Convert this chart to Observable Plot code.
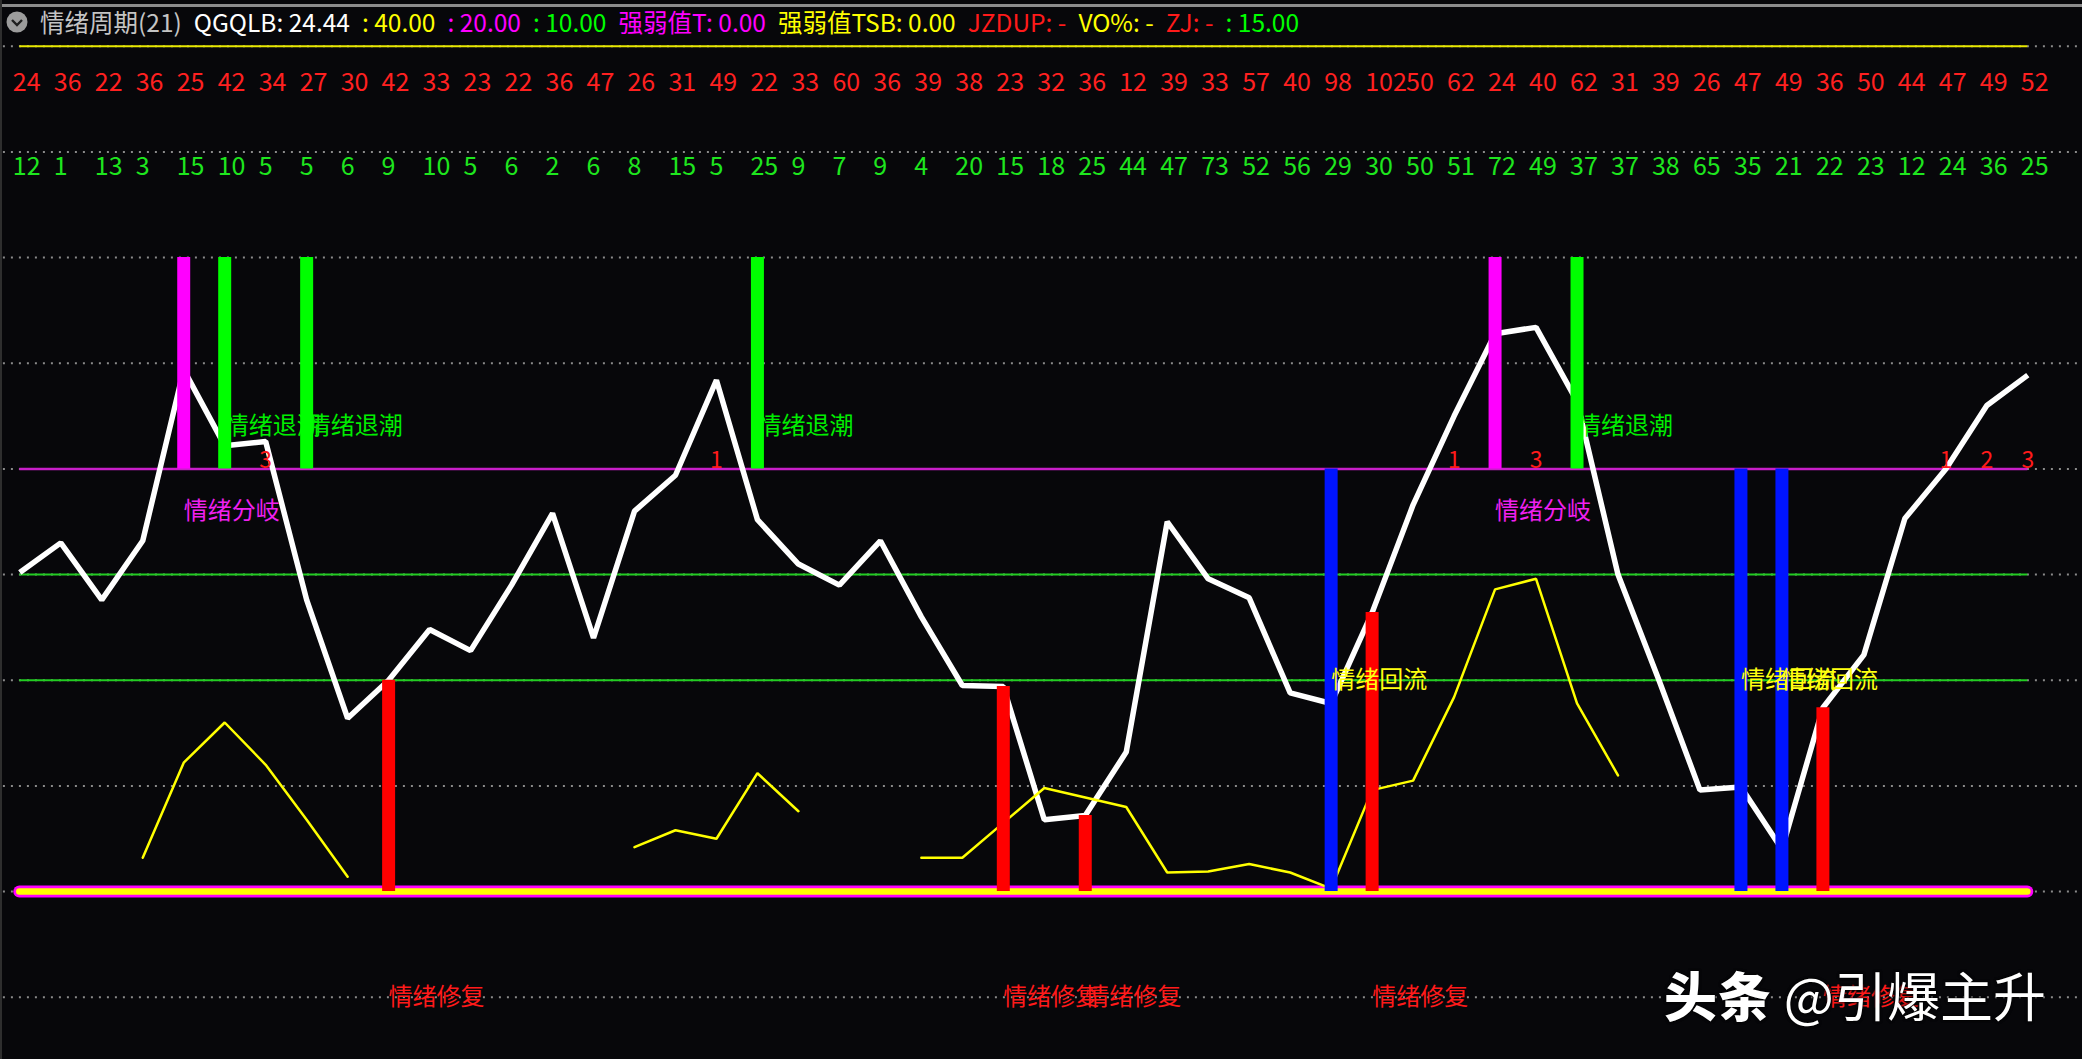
<!DOCTYPE html>
<html>
<head>
<meta charset="utf-8">
<script src="https://cdn.jsdelivr.net/npm/d3@7"></script>
<script src="https://cdn.jsdelivr.net/npm/@observablehq/plot@0.6"></script>
<style>
  html, body { margin: 0; padding: 0; background: #07070a; }
  #wrap { position: relative; width: 2082px; height: 1059px; overflow: hidden; background: #07070a; }
  #chart { position: absolute; left: 0; top: 0; }
  #topline { position: absolute; left: 0; top: 4px; width: 2082px; height: 3px; background: #8c8c8c; }
  #leftline { position: absolute; left: 0; top: 0; width: 2px; height: 1059px; background: #2e2e2e; }
  #header { position: absolute; left: 6px; top: 8px; display: flex; align-items: center; gap: 12px;
            font-family: "Noto Sans CJK SC", "Noto Sans", sans-serif; font-size: 24.5px; line-height: 28px; white-space: nowrap; }
  #icon { width: 22px; height: 22px; }
  #watermark { position: absolute; left: 1664px; top: 962px; font-family: "Noto Sans CJK SC", sans-serif;
               font-size: 53px; line-height: 64px; color: #ffffff; white-space: nowrap;
               text-shadow: 0 0 3px #000, 0 0 3px #000; }
  #watermark b { font-weight: 900; letter-spacing: 1px; }
</style>
</head>
<body>
<div id="wrap">
  <div id="chart"></div>
  <div id="topline"></div>
  <div id="leftline"></div>
  <div id="header"></div>
  <div id="watermark"><b>头条</b> @引爆主升</div>
</div>
<script>
// ---------------- data ----------------
const headerItems  = ["情绪周期(21)", "QGQLB: 24.44", ": 40.00", ": 20.00", ": 10.00", "强弱值T: 0.00", "强弱值TSB: 0.00", "JZDUP: -", "VO%: -", "ZJ: -", ": 15.00"];
const headerColors = ["#c4c4c4", "#ffffff", "#ffff00", "#ff00ff", "#00ff00", "#ff00ff", "#ffff00", "#ff1a1a", "#ffff00", "#ff1a1a", "#00ff00"];

// top row (red) and second row (green) numbers, one per day
const redNums   = [24,36,22,36,25,42,34,27,30,42,33,23,22,36,47,26,31,49,22,33,60,36,39,38,23,32,36,12,39,33,57,40,98,102,50,62,24,40,62,31,39,26,47,49,36,50,44,47,49,52];
const greenNums = [12,1,13,3,15,10,5,5,6,9,10,5,6,2,6,8,15,5,25,9,7,9,4,20,15,18,25,44,47,73,52,56,29,30,50,51,72,49,37,37,38,65,35,21,22,23,12,24,36,25];

// QGQLB (white line)
const qgqlb = [15.1,16.5,13.8,16.6,24.7,21.1,21.3,13.8,8.2,10.0,12.4,11.4,14.5,17.9,12.0,18.0,19.7,24.2,17.6,15.5,14.5,16.6,13.0,9.75,9.7,3.4,3.6,6.6,17.5,14.8,13.9,9.4,8.9,13.2,18.3,22.5,26.4,26.7,23.2,15.0,10.0,4.8,4.95,2.0,8.7,11.2,17.65,20.0,23.0,24.44];
// VO% (thin yellow line, gaps = no value)
const vo = [null,null,null,1.6,6.1,8.0,6.0,3.4,0.7,null,null,null,null,null,null,2.1,2.9,2.5,5.6,3.8,null,null,1.6,1.6,3.25,4.9,4.45,4.0,0.9,0.95,1.3,0.9,0.14,4.8,5.25,9.2,14.3,14.8,8.9,5.5,null,null,null,null,null,null,null,null,null,null];

// reference levels
const levelYellow = 40, levelMagenta = 20, levelGreen = [15, 10], gridLevels = [-5,0,5,10,15,20,25,30,35,40];

// signal days (index of day)
const divergeDays = [4, 36];          // 情绪分岐 (magenta bar)
const retreatDays = [5, 7, 18, 38];   // 情绪退潮 (green bar)
const returnDays  = [32, 42, 43];     // 情绪回流 (blue bar)
const repairDays  = [9, 24, 26, 33, 44]; // 情绪修复 (red bar)
const countDays   = [6, 17, 35, 37, 47, 48, 49];
const countTexts  = ["3", "1", "1", "3", "1", "2", "3"];

// label levels and bar ranges
const divergeLevel = 18, retreatLevel = 22, returnLevel = 10, repairLevel = -5, countLevel = 20;
const topBar = [20, 30], blueBar = [0, 20];

// ---------------- header ----------------
const header = document.getElementById("header");
header.insertAdjacentHTML("beforeend",
  '<svg id="icon" viewBox="0 0 22 22"><circle cx="11" cy="11" r="10.5" fill="#9c9c9c"/><path d="M6 9 L11 14 L16 9" stroke="#202020" stroke-width="2.4" fill="none"/></svg>');
headerItems.forEach((t, k) => {
  const s = document.createElement("span");
  s.textContent = t;
  s.style.color = headerColors[k];
  header.appendChild(s);
});

// ---------------- chart ----------------
const N = qgqlb.length;
const days = d3.range(N).map(i => ({i, w: qgqlb[i], v: vo[i], r: redNums[i], g: greenNums[i]}));
const pick = (arr) => arr.map(i => days[i]);

const font = "'Noto Sans CJK SC', 'Noto Sans', sans-serif";

const chart = Plot.plot({
  width: 2082,
  height: 1059,
  marginLeft: 19.3,
  marginRight: 54.7,
  marginTop: 45.8,
  marginBottom: 62.3,
  x: {domain: [0, N - 1], axis: null},
  y: {domain: [-5, 40], axis: null},
  style: {background: "transparent", fontFamily: font, fontSize: "24px", overflow: "visible"},
  marks: [
    // dotted grid lines
    Plot.ruleY(gridLevels, {x1: -0.4, x2: N + 0.3, stroke: "#8a8a8a", strokeWidth: 2, strokeDasharray: "2,6"}),
    // reference lines
    Plot.ruleY([levelYellow], {x1: 0, x2: N - 1, stroke: "#e8e800", strokeWidth: 2}),
    Plot.ruleY([levelMagenta], {x1: 0, x2: N - 1, stroke: "#c81ec8", strokeWidth: 2.5}),
    Plot.ruleY(levelGreen, {x1: 0, x2: N - 1, stroke: "#22cc22", strokeWidth: 2}),
    // thick base line (magenta edge, yellow core)
    Plot.ruleY([0], {x1: 0, x2: N - 1, stroke: "#ff00ff", strokeWidth: 12, strokeLinecap: "round"}),
    Plot.ruleY([0], {x1: 0, x2: N - 1, stroke: "#ffff00", strokeWidth: 6.5, strokeLinecap: "round"}),
    // white QGQLB line
    Plot.line(days, {x: "i", y: "w", stroke: "#ffffff", strokeWidth: 5.5, strokeLinejoin: "miter", strokeLinecap: "butt", curve: "linear"}),
    // yellow VO line
    Plot.line(days, {x: "i", y: "v", stroke: "#ffff00", strokeWidth: 2.5, strokeLinejoin: "miter", curve: "linear"}),
    // labels below bars
    Plot.text(pick(retreatDays), {x: "i", y: () => retreatLevel, text: () => "情绪退潮", fill: "#00ee00", textAnchor: "start", fontSize: 24}),
    Plot.text(pick(divergeDays), {x: "i", y: () => divergeLevel, text: () => "情绪分岐", fill: "#f020f0", textAnchor: "start", fontSize: 24}),
    Plot.text(pick(repairDays), {x: "i", y: () => repairLevel, text: () => "情绪修复", fill: "#ff1a1a", textAnchor: "start", fontSize: 24}),
    // bars
    Plot.ruleX(pick(divergeDays), {x: "i", y1: topBar[0], y2: topBar[1], stroke: "#ff00ff", strokeWidth: 13}),
    Plot.ruleX(pick(retreatDays), {x: "i", y1: topBar[0], y2: topBar[1], stroke: "#00ff00", strokeWidth: 13}),
    Plot.ruleX(pick(returnDays), {x: "i", y1: blueBar[0], y2: blueBar[1], stroke: "#0014ff", strokeWidth: 13}),
    Plot.ruleX(pick(repairDays), {x: "i", y1: 0, y2: "w", stroke: "#ff0000", strokeWidth: 13}),
    // labels above bars
    Plot.text(pick(returnDays), {x: "i", y: () => returnLevel, text: () => "情绪回流", fill: "#ffff10", textAnchor: "start", fontSize: 24}),
    Plot.text(countDays.map((d, k) => ({i: d, t: countTexts[k]})), {x: "i", y: () => countLevel, text: "t", fill: "#ff1a1a", textAnchor: "middle", lineAnchor: "bottom", dy: -1, fontSize: 23}),
    // number rows
    Plot.text(days, {x: "i", text: "r", frameAnchor: "top", lineAnchor: "middle", dy: 36.5, dx: -7, textAnchor: "start", fill: "#ff2020", fontSize: 25}),
    Plot.text(days, {x: "i", text: "g", frameAnchor: "top", lineAnchor: "middle", dy: 120.5, dx: -7, textAnchor: "start", fill: "#1ee61e", fontSize: 25})
  ]
});
document.getElementById("chart").appendChild(chart);
</script>
</body>
</html>
